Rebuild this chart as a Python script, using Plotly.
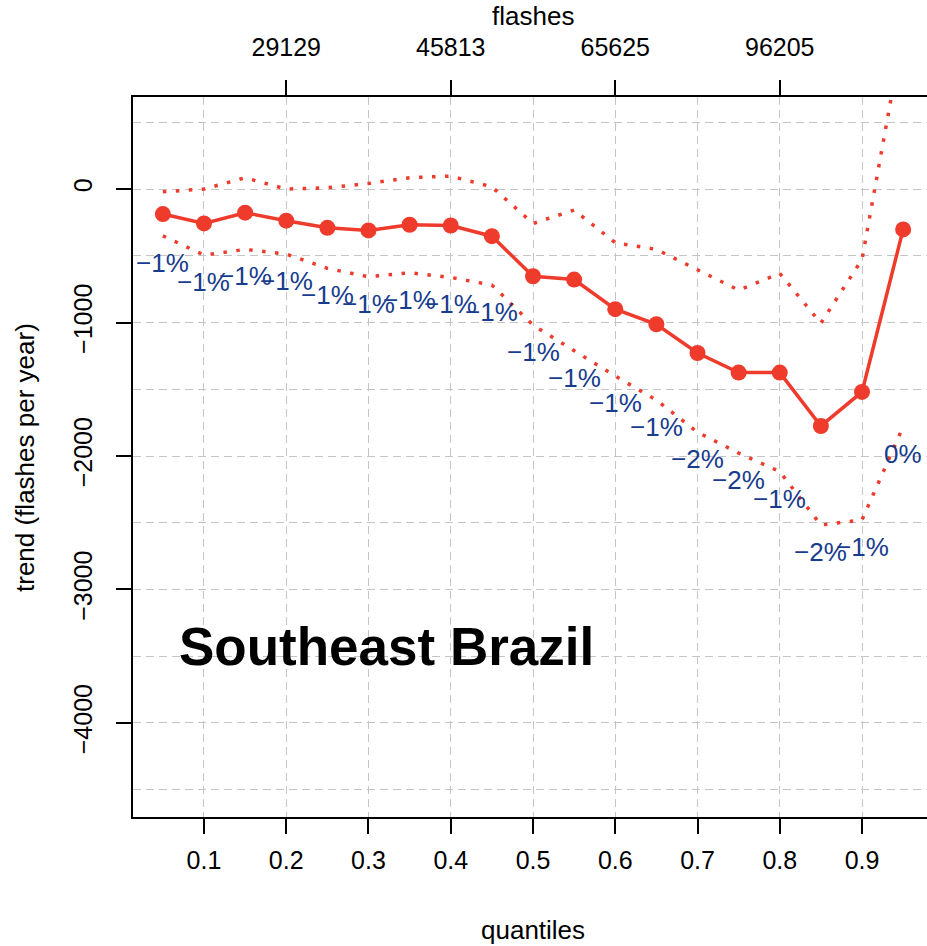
import plotly.graph_objects as go

# Quantile levels of the flash-count distribution
quantiles = [0.05, 0.10, 0.15, 0.20, 0.25, 0.30, 0.35, 0.40, 0.45, 0.50,
             0.55, 0.60, 0.65, 0.70, 0.75, 0.80, 0.85, 0.90, 0.95]

# Estimated trend per quantile (flashes per year) and its confidence band
trend = [-187, -257, -177, -237, -290, -310, -267, -273, -353, -653,
         -678, -900, -1013, -1228, -1375, -1375, -1775, -1520, -302]
upper = [-20, 0, 85, 0, 10, 42, 85, 97, 17, -258,
         -157, -402, -452, -607, -757, -632, -1005, -527, 1180]
lower = [-350, -494, -452, -487, -594, -657, -627, -662, -719, -1019,
         -1211, -1401, -1581, -1822, -1978, -2117, -2517, -2479, -1780]

# Relative trend labels
pct_labels = ["−1%", "−1%", "−1%", "−1%", "−1%", "−1%", "−1%", "−1%", "−1%", "−1%",
              "−1%", "−1%", "−1%", "−2%", "−2%", "−1%", "−2%", "−1%", "0%"]

# Secondary axis: flash counts at selected quantiles
flash_q = [0.2, 0.4, 0.6, 0.8]
flash_labels = ["29129", "45813", "65625", "96205"]

RED = "#EF3B2C"
BLUE = "#173C8E"
GRID = "#C4C4C4"
FONT = "Liberation Sans, Arial, Helvetica, sans-serif"

XRANGE = [0.0137, 0.979]
YRANGE = [-4705, 690]

fig = go.Figure()

for band in (upper, lower):
    fig.add_trace(go.Scatter(
        x=quantiles, y=band, mode="lines",
        line=dict(color=RED, width=3.5, dash="3.5px,9.5px"),
        hoverinfo="skip", showlegend=False))

fig.add_trace(go.Scatter(
    x=quantiles, y=trend, mode="lines+markers",
    line=dict(color=RED, width=3.5),
    marker=dict(color=RED, size=16, line=dict(width=0)),
    showlegend=False))

# invisible carrier for the top axis
fig.add_trace(go.Scatter(
    x=flash_q, y=[None] * len(flash_q), xaxis="x2", mode="markers",
    marker=dict(opacity=0), hoverinfo="skip", showlegend=False))

annotations = []
for q, lo, txt in zip(quantiles, lower, pct_labels):
    annotations.append(dict(
        x=q, y=lo, xref="x", yref="y", text=txt, showarrow=False,
        yshift=-27, xanchor="center", yanchor="middle",
        font=dict(family=FONT, size=26, color=BLUE)))

annotations.append(dict(
    x=0.067, y=-3430, xref="x", yref="y", text="<b>Southeast Brazil</b>",
    showarrow=False, xanchor="left", yanchor="middle",
    font=dict(family=FONT, size=53, color="black")))

# axis titles
plot_w = 927 - 133
annotations += [
    dict(x=(533 - 133) / plot_w, y=(817 - 930) / 720, xref="paper", yref="paper",
         text="quantiles", showarrow=False, xanchor="center", yanchor="middle",
         font=dict(family=FONT, size=26, color="black")),
    dict(x=(533 - 133) / plot_w, y=(817 - 16) / 720, xref="paper", yref="paper",
         text="flashes", showarrow=False, xanchor="center", yanchor="middle",
         font=dict(family=FONT, size=26, color="black")),
    dict(x=(25 - 133) / plot_w, y=0.5, xref="paper", yref="paper",
         text="trend (flashes per year)", showarrow=False, textangle=-90,
         xanchor="center", yanchor="middle",
         font=dict(family=FONT, size=26, color="black")),
]

tick_font = dict(family=FONT, size=25, color="black")

fig.update_layout(
    width=927, height=946,
    margin=dict(l=133, r=0, t=97, b=129),
    paper_bgcolor="white", plot_bgcolor="white",
    showlegend=False,
    annotations=annotations,
    xaxis=dict(
        range=XRANGE, tickvals=[0.1, 0.2, 0.3, 0.4, 0.5, 0.6, 0.7, 0.8, 0.9],
        ticktext=["0.1", "0.2", "0.3", "0.4", "0.5", "0.6", "0.7", "0.8", "0.9"],
        ticks="outside", ticklen=15, tickwidth=1.5, tickcolor="black",
        showline=True, linecolor="black", linewidth=2,
        showgrid=True, gridcolor=GRID, gridwidth=1, griddash="8px,5px",
        zeroline=False, tickfont=tick_font, ticklabelstandoff=5),
    xaxis2=dict(
        range=XRANGE, overlaying="x", side="top", anchor="y",
        tickvals=flash_q, ticktext=flash_labels,
        ticks="outside", ticklen=15, tickwidth=1.5, tickcolor="black",
        showline=True, linecolor="black", linewidth=2,
        showgrid=False, zeroline=False, tickfont=tick_font,
        ticklabelstandoff=14),
    yaxis=dict(
        range=YRANGE, tickvals=[-4000, -3000, -2000, -1000, 0],
        tickangle=-90,
        ticks="outside", ticklen=15, tickwidth=1.5, tickcolor="black",
        showline=True, linecolor="black", linewidth=2,
        showgrid=True, gridcolor=GRID, gridwidth=1, griddash="8px,5px",
        minor=dict(dtick=500, tick0=0, showgrid=True, gridcolor=GRID,
                   gridwidth=1, griddash="8px,5px", ticks=""),
        zeroline=False, tickfont=tick_font, ticklabelstandoff=14),
)

fig.write_html("out.html")
